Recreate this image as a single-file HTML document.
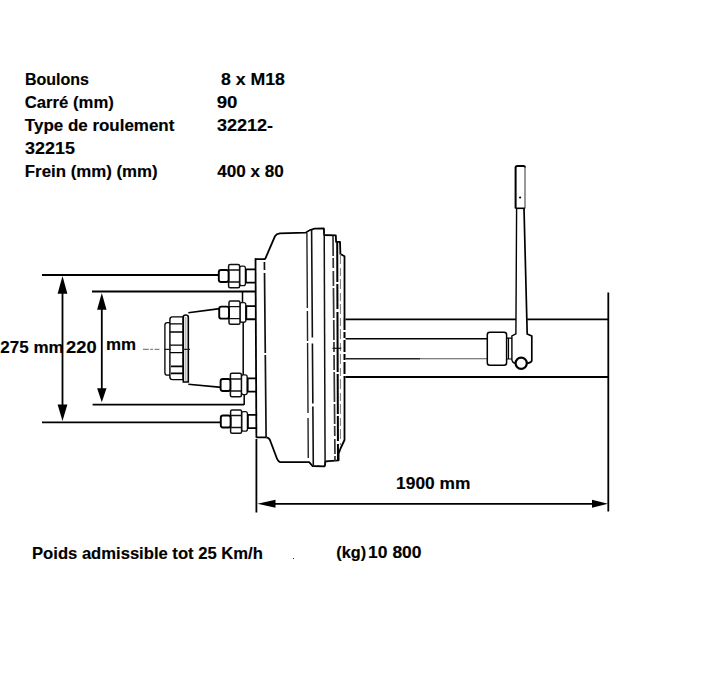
<!DOCTYPE html>
<html><head><meta charset="utf-8">
<style>
html,body{margin:0;padding:0;background:#fff;width:727px;height:677px;overflow:hidden}
svg{position:absolute;left:0;top:0}
text{font-family:"Liberation Sans",sans-serif;font-weight:bold;font-size:16px;fill:#000;stroke:#000;stroke-width:0.15}
</style></head>
<body>
<svg width="727" height="677" viewBox="0 0 727 677">
<defs>
<g id="bolt">
  <rect x="240" y="-10" width="5.8" height="19.6" rx="2" fill="#fff" stroke="#111" stroke-width="1.3"/>
  <rect x="229" y="-11.6" width="11" height="23.3" rx="1.5" fill="#fff" stroke="#111" stroke-width="1.5"/>
  <path d="M229 -6H240M229 6H240" stroke="#111" stroke-width="1.4" fill="none"/>
  <rect x="219.2" y="-6" width="9.8" height="12" rx="2.2" fill="#fff" stroke="#000" stroke-width="1.9"/>
  <path d="M255.5 -6.6H246.3V6.6H255.5" stroke="#000" stroke-width="1.8" fill="none"/>
</g>
</defs>

<!-- dimension lines left -->
<g stroke="#000" stroke-width="1.8" fill="none">
  <path d="M42 275H219M92 291.5H255.5M92.6 404.6H244M42 422.4H221"/>
  <path d="M62.5 285V412M101.8 300V396"/>
</g>
<g fill="#000">
  <path d="M62.5 276L67.4 293.7H57.6Z"/>
  <path d="M62.5 421L67.4 404.4H57.6Z"/>
  <path d="M101.8 293L106.5 309.8H97.1Z"/>
  <path d="M101.8 402.3L106.5 388.2H97.1Z"/>
</g>
<path d="M143 349.3H148.8M150.2 349.3H153M154.5 349.3H159.4" stroke="#555" stroke-width="0.9"/>

<!-- hub cap / castle nut -->
<g stroke="#000" fill="#fff">
  <rect x="164.9" y="322.6" width="6" height="52.6" rx="2.5" stroke-width="1.3"/>
  <path d="M183.1 316.9H172.5Q169.9 316.9 169.9 319.5V377Q169.9 379.6 172.5 379.6H183.1Z" stroke-width="1.4"/>
  <path d="M170 323.8H182M170 332H183M170 345.1H183M170 352.6H183" stroke-width="1.3"/>
  <path d="M171 366.4H183M171 373.3H183" stroke-width="1.8"/>
  <path d="M183.3 382V317Q183.3 315 185.6 315Q188.3 315 188.3 317V382Z" stroke-width="1.6"/>
  <path d="M185.7 317V381" stroke-width="1.6" stroke="#bbb"/>
</g>
<path d="M164 349.3H171M183 349.3H190" stroke="#222" stroke-width="1.3"/>
<!-- cone -->
<path d="M188.3 312.8L219.8 308.6M188.3 384.3L221.5 387.4" stroke="#000" stroke-width="1.6" fill="none"/>
<path d="M243.2 322.7V375M244.2 391.6V404.9M242.5 291.5V303" stroke="#000" stroke-width="1.5" fill="none"/>

<!-- bolts -->
<use href="#bolt" transform="translate(-0.4,276.05)"/>
<use href="#bolt" transform="translate(0,312.65)"/>
<use href="#bolt" transform="translate(1.4,384.95)"/>
<use href="#bolt" transform="translate(1.6,421.55)"/>

<!-- flange -->
<g stroke="#000" fill="none">
  <path d="M255.2 259.1H265.2M256.2 437.4H266.5" stroke-width="1.7"/>
  <path d="M255.5 258.3L256.4 437.8" stroke-width="1.8"/>
  <path d="M264.4 262L266.1 437" stroke-width="1.7" stroke="#111" stroke-dasharray="8 3 80 2 95"/>
</g>

<!-- drum outline -->
<g stroke="#000" fill="none" stroke-width="1.8" stroke-linejoin="round">
  <path d="M265 259.4L274.9 236.3Q276.5 233.7 279.8 233.3L305.8 232.6Q309 230 314.5 228.7L323.8 228.4L324.2 235L335.8 235.4L336.1 241.9H340L340.4 254L344.5 256.2V318"/>
  <path d="M344.5 378V440L340.5 448.5L338.6 453.7V460.3L325.6 461.4L324.6 466.3L312.5 466L309.2 462.2L279.8 462Q277.6 461 275.9 455.7L270.7 442Q269.6 437.7 266.5 437.5"/>
</g>
<g fill="none">
  <path d="M306.9 233L308.3 462" stroke="#222" stroke-width="1.4" stroke-dasharray="75 3 30 2 70 5 40"/>
  <path d="M311.6 229.5L313.3 465.5" stroke="#111" stroke-width="1.6" stroke-dasharray="108 6 60 3 200"/>
  <path d="M324.2 229L325.1 466" stroke="#111" stroke-width="1.5"/>
  <path d="M333 236L335 461" stroke="#333" stroke-width="1.7" stroke-dasharray="20 2 10 3 15 2 30 2"/>
  <path d="M337.2 242L338 460" stroke="#000" stroke-width="2" stroke-dasharray="40 2 25 3 60 2"/>
  <path d="M340.4 254V445" stroke="#777" stroke-width="1" stroke-dasharray="10 4 8 3"/>
  <path d="M344.5 318V378" stroke="#000" stroke-width="2" stroke-dasharray="12 2 6 2"/>
</g>

<!-- axle -->
<g stroke="#000" fill="none">
  <path d="M345.5 319.4H516M527.2 319.4H608.3M345.5 377H608.3" stroke-width="1.8"/>
  <path d="M345.5 338.8H487.3" stroke-width="1.6"/>
  <path d="M345.5 358.8H420" stroke-width="1.4" stroke="#222"/><path d="M420 358.8H487.3" stroke-width="1.1" stroke="#555"/><path d="M332.5 348.3H341.3" stroke-width="1.2" stroke="#111"/>
  <path d="M608.3 292.4V511.6M256.4 439V512.4" stroke-width="1.8"/>
  <path d="M270 503.8H594" stroke-width="1.8"/>
</g>
<g fill="#000">
  <path d="M257.4 503.8L275.5 499.8V507.8Z"/>
  <path d="M608 503.8L592 499.8V507.8Z"/>
</g>

<!-- handle -->
<g stroke="#000" fill="#fff">
  <rect x="487.3" y="332.3" width="19.3" height="32.9" rx="2.5" stroke-width="1.5"/>
  <path d="M506.6 338.2H511.9M506.6 359H511.9M508.5 338.2V359" stroke-width="1.2" fill="none"/>
  <path d="M516.6 208.5L515.9 333.9L511.9 336V359.5Q512 362.5 515.5 363.5" stroke-width="1.4" fill="none"/>
  <path d="M524 208.5L527.2 333.9L531.8 336V360.5Q531.5 362.5 527 363.5" stroke-width="1.7" fill="none"/>
  <circle cx="521.2" cy="363.2" r="5.6" stroke-width="2.2"/>
</g>
<g fill="none">
  <path d="M515.6 208.6V167.5Q515.6 165.9 517.5 165.9H523.5Q525 165.9 525 167.5" stroke="#000" stroke-width="2"/>
  <path d="M525 167V208.6" stroke="#444" stroke-width="1.1"/>
  <path d="M515.6 208.3H525" stroke="#000" stroke-width="1.6"/>
  <circle cx="520.1" cy="197.5" r="1.1" fill="#000"/>
</g>

<rect x="293" y="558" width="1" height="1" fill="#7a1010"/>
<text x="24.90" y="85.20" textLength="63.99" lengthAdjust="spacingAndGlyphs">Boulons</text>
<text x="24.77" y="107.90" textLength="89.02" lengthAdjust="spacingAndGlyphs">Carré (mm)</text>
<text x="24.89" y="131.10" textLength="149.48" lengthAdjust="spacingAndGlyphs">Type de roulement</text>
<text x="25.05" y="154.10" textLength="49.90" lengthAdjust="spacingAndGlyphs">32215</text>
<text x="24.84" y="176.60" textLength="132.83" lengthAdjust="spacingAndGlyphs">Frein (mm) (mm)</text>
<text x="220.95" y="85.10" textLength="64.02" lengthAdjust="spacingAndGlyphs">8 x M18</text>
<text x="216.70" y="107.80" textLength="20.71" lengthAdjust="spacingAndGlyphs">90</text>
<text x="216.95" y="130.70" textLength="56.15" lengthAdjust="spacingAndGlyphs">32212-</text>
<text x="217.19" y="176.60" textLength="66.54" lengthAdjust="spacingAndGlyphs">400 x 80</text>
<text x="0.36" y="352.60" textLength="63.19" lengthAdjust="spacingAndGlyphs">275 mm</text>
<text x="66.11" y="352.60" textLength="30.48" lengthAdjust="spacingAndGlyphs">220</text>
<text x="105.94" y="350.00" textLength="30.07" lengthAdjust="spacingAndGlyphs">mm</text>
<text x="396.12" y="488.70" textLength="74.26" lengthAdjust="spacingAndGlyphs">1900 mm</text>
<text x="32.06" y="558.80" textLength="230.75" lengthAdjust="spacingAndGlyphs">Poids admissible tot 25 Km/h</text>
<text x="336.39" y="558.00" textLength="29.75" lengthAdjust="spacingAndGlyphs">(kg)</text>
<text x="368.11" y="558.00" textLength="53.39" lengthAdjust="spacingAndGlyphs">10 800</text>
</svg>
</body></html>
